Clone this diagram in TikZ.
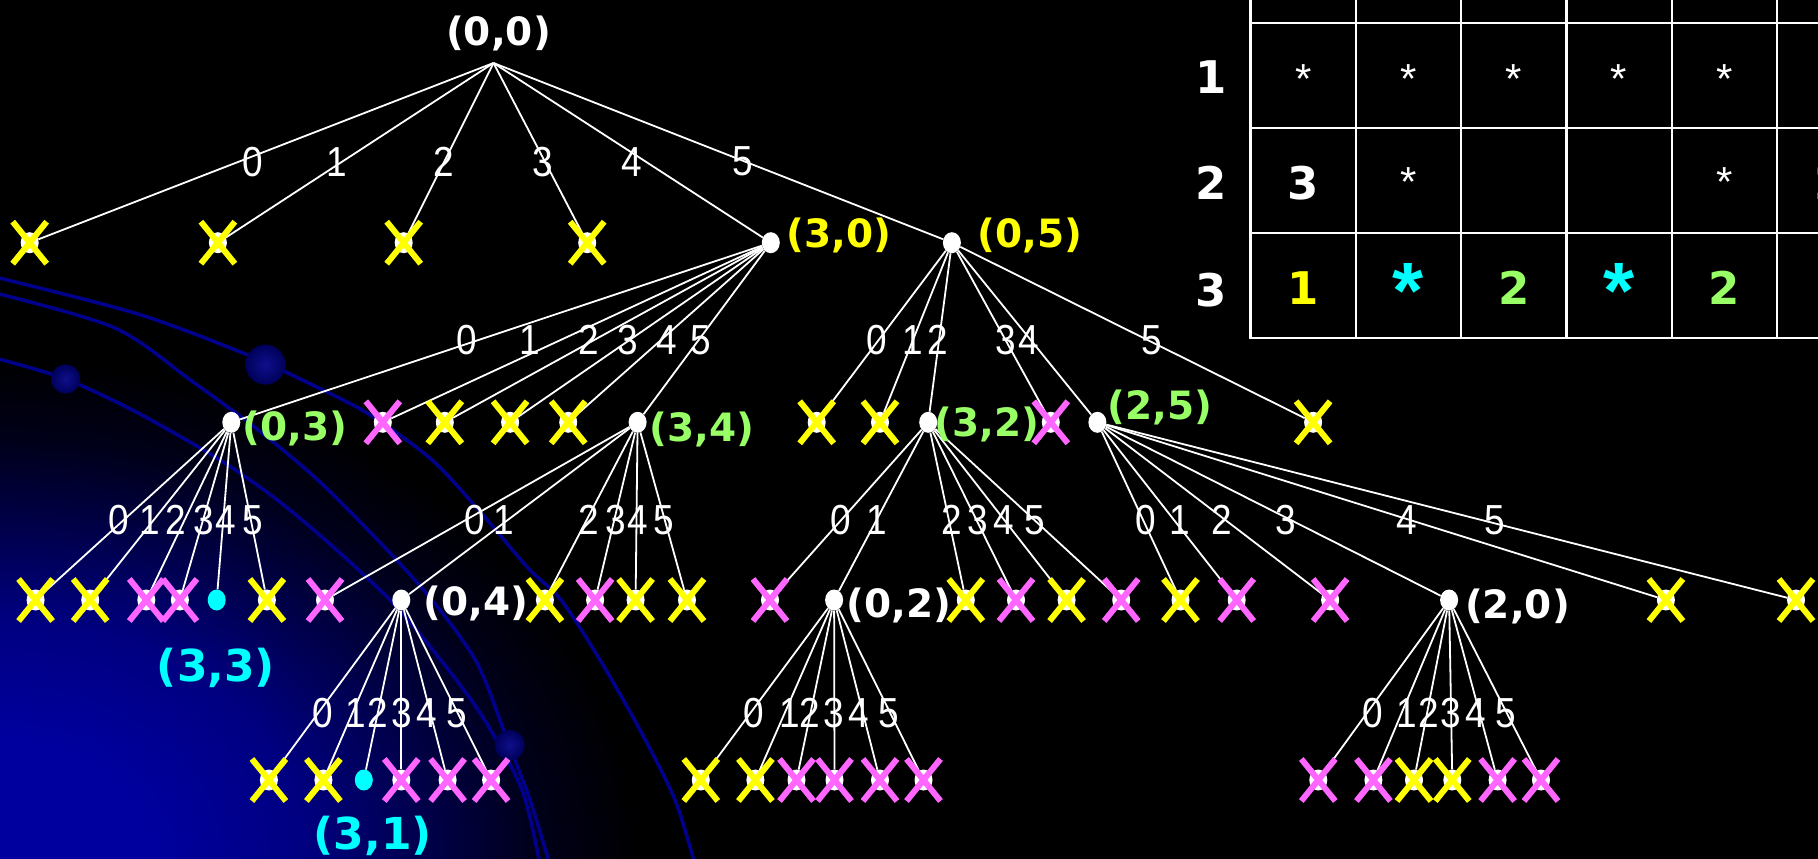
\documentclass[tikz,border=0pt]{standalone}
\usepackage{fontspec}
\setmainfont{Liberation Sans}
\newfontfamily\djv{DejaVu Sans}
\newfontfamily\edgefam[FakeStretch=0.88]{Liberation Sans}
\usetikzlibrary{shapes.geometric}
\definecolor{yel}{RGB}{255,255,0}
\definecolor{pnk}{RGB}{255,102,255}
\definecolor{grn}{RGB}{153,255,102}
\definecolor{cyn}{RGB}{0,255,255}
\definecolor{glowA}{RGB}{0,0,158}
\definecolor{glowB}{RGB}{0,0,128}
\definecolor{glowC}{RGB}{0,0,70}
\definecolor{glowD}{RGB}{0,0,25}
\definecolor{curveblue}{RGB}{0,0,140}
\definecolor{blobin}{RGB}{15,15,140}
\definecolor{blobout}{RGB}{0,0,90}
\pgfdeclareradialshading{cornerglow}{\pgfpointorigin}{color(0bp)=(glowA); color(6bp)=(glowA); color(12bp)=(glowB); color(17bp)=(glowC); color(21bp)=(glowD); color(25bp)=(black); color(50bp)=(black)}
\begin{document}
\begin{tikzpicture}[x=1pt,y=-1pt,
  edge/.style={draw=white,line width=1.8pt},
  dot/.style={ellipse,fill=white,minimum width=18pt,minimum height=21pt,inner sep=0pt},
  cdot/.style={dot,fill=cyn},
  xline/.style={line width=6pt},
  nlab/.style={font=\djv\bfseries\fontsize{39}{43}\selectfont,inner sep=0pt},
  clab/.style={font=\djv\bfseries\fontsize{44}{48}\selectfont,inner sep=0pt,text=cyn},
  elab/.style={font=\edgefam\fontsize{42}{46}\selectfont,text=white,inner sep=0pt},
  tbold/.style={font=\djv\bfseries\fontsize{45}{50}\selectfont,inner sep=0pt},
  tstar/.style={font=\fontsize{42}{46}\selectfont,text=white,inner sep=0pt,anchor=base},
  cstar/.style={font=\bfseries\fontsize{80}{84}\selectfont,text=cyn,inner sep=0pt,anchor=base},
  grid/.style={draw=white,line width=2.2pt},
  deco/.style={draw=curveblue,line width=3.5pt},
  blob/.style={inner color=blobin,outer color=blobout}
]
\useasboundingbox (0,0) rectangle (1818,859);
\fill[black] (0,0) rectangle (1818,859);
\begin{scope}
\clip (0,0) rectangle (1818,859);
\shade[shading=cornerglow] (0,859) ellipse [x radius=640pt, y radius=500pt];
\draw[deco] plot[smooth] coordinates {(-5,277) (138,314) (248,355) (298,378) (367,413) (432,460) (482,514) (528,568) (561,600) (600,660) (640,730) (675,800) (695,865)};
\draw[deco] plot[smooth] coordinates {(-5,293) (115,328) (193,382) (257,429) (321,483) (390,553) (436,605) (478,665) (509,745) (530,800) (550,865)};
\draw[deco] plot[smooth] coordinates {(-5,358) (65.6,379) (138,413) (220,460) (276,499) (331,545) (390,600) (436,654) (482,716) (522,790) (540,865)};
\shade[blob] (265.4,364.6) circle [radius=20pt];
\shade[blob] (65.6,379) circle [radius=14.5pt];
\shade[blob] (509.6,745) circle [radius=15pt];

% ---------- table ----------
\foreach \k in {0,...,5} \draw[grid] (1250.5+105.3*\k,0) -- (1250.5+105.3*\k,337.7);
\foreach \yy in {22.7,127.7,232.7,337.7} \draw[grid] (1249.4,\yy) -- (1818,\yy);
\node[tbold,text=white] (row1) at (1211.3,77) {1};
\node[tbold,text=white] (row2) at (1211.3,183) {2};
\node[tbold,text=white] (row3) at (1211.3,290) {3};
\foreach \xx [count=\i] in {1303.2,1408.5,1513.8,1619.1,1724.4}
  \node[tstar] (s1-\i) at (\xx,93) {*};
\node[tbold,text=white] (t21) at (1303.2,183) {3};
\node[tstar] (s22) at (1408.5,196.5) {*};
\node[tstar] (s25) at (1724.4,196.5) {*};
\node[tbold,text=grn] (t26) at (1829.7,183) {2};
\node[tbold,text=yel] (t31) at (1303.2,288) {1};
\node[cstar] (s32) at (1408.5,318) {*};
\node[tbold,text=grn] (t33) at (1513.8,288) {2};
\node[cstar] (s34) at (1619.1,318) {*};
\node[tbold,text=grn] (t35) at (1724.4,288) {2};

% ---------- tree nodes ----------
\coordinate (r) at (493.5,63);
\foreach \n/\x in {a0/29.7,a1/217.9,a2/403.7,a3/587.2,n30/770.8,n05/951.9}
  \node[dot] (\n) at (\x,242.7) {};
\foreach \n/\x in {n03/231.3,b1/382.8,b2/444.8,b3/510.1,b4/568.2,n34/637.6,c0/816.7,c1/880.0,n32/928.2,c3/1050.8,n25/1097.4,c5/1313.1}
  \node[dot] (\n) at (\x,422.3) {};
\foreach \n/\x in {d0/35.6,d1/90.2,d2/146.3,d3/179.9,d5/266.9,e0/325,n04/401.3,e2/544.9,e3/595.1,e4/635.6,e5/687,f0/770,n02/834.1,f2/965.8,f3/1016,f4/1066.6,f5/1121.2,g0/1180.5,g1/1236.7,g2/1330.1,n20/1449.1,g4/1665.9,g5/1796}
  \node[dot] (\n) at (\x,600) {};
\node[cdot] (n33) at (216.7,600) {};
\foreach \n/\x in {h0/268.9,h1/323.4,h3/401.3,h4/447.6,h5/491.1,i0/700.8,i1/755.4,i2/796.5,i3/834.5,i4/880,i5/923.5,j0/1318.3,j1/1373.4,j2/1414,j3/1452.3,j4/1497.6,j5/1541}
  \node[dot] (\n) at (\x,780) {};
\node[cdot] (n31) at (363.8,780) {};

% ---------- edges ----------
\foreach \c in {a0,a1,a2,a3,n30,n05} \draw[edge] (r) -- (\c);
\foreach \c in {n03,b1,b2,b3,b4,n34} \draw[edge] (n30) -- (\c);
\foreach \c in {c0,c1,n32,c3,n25,c5} \draw[edge] (n05) -- (\c);
\foreach \c in {d0,d1,d2,d3,n33,d5} \draw[edge] (n03) -- (\c);
\foreach \c in {e0,n04,e2,e3,e4,e5} \draw[edge] (n34) -- (\c);
\foreach \c in {f0,n02,f2,f3,f4,f5} \draw[edge] (n32) -- (\c);
\foreach \c in {g0,g1,g2,n20,g4,g5} \draw[edge] (n25) -- (\c);
\foreach \c in {h0,h1,n31,h3,h4,h5} \draw[edge] (n04) -- (\c);
\foreach \c in {i0,i1,i2,i3,i4,i5} \draw[edge] (n02) -- (\c);
\foreach \c in {j0,j1,j2,j3,j4,j5} \draw[edge] (n20) -- (\c);

% ---------- cross marks ----------
\foreach \n in {a0,a1,a2,a3,b2,b3,b4,c0,c1,c5,d0,d1,d5,e2,e4,e5,f2,f4,g0,g4,g5,h0,h1,i0,i1,j2,j3}
  \draw[xline,yel] (\n.center) +(-17,-21) -- +(17,21) +(-17,21) -- +(17,-21);
\foreach \n in {b1,c3,d2,d3,e0,e3,f0,f3,f5,g1,g2,h3,h4,h5,i2,i3,i4,i5,j0,j1,j4,j5}
  \draw[xline,pnk] (\n.center) +(-17,-21) -- +(17,21) +(-17,21) -- +(17,-21);

% ---------- edge labels ----------
\foreach \x/\t [count=\i] in {253.1/0,336.9/1,443.6/2,542.9/3,631.6/4,742.3/5}
  \node[elab] (la\i) at (\x,161.7) {\t};
\foreach \x/\t [count=\i] in {466.6/0,529.9/1,589.2/2,627.7/3,667.2/4,700.8/5,876.8/0,912.4/1,938.1/2,1005.3/3,1029/4,1151.6/5}
  \node[elab] (lb\i) at (\x,340) {\t};
\foreach \x/\t [count=\i] in {118.6/0,149.5/1,176/2,203.6/3,225.4/4,252.3/5,474.5/0,504.2/1,589.2/2,615.8/3,637.6/4,663.3/5,841.2/0,876.8/1,951.9/2,977.6/3,1003.3/4,1035/5,1145.7/0,1179.3/1,1221.7/2,1285.9/3,1406.9/4,1494.8/5}
  \node[elab] (lc\i) at (\x,520) {\t};
\foreach \x/\t [count=\i] in {322.3/0,355.9/1,377.6/2,401.3/3,427/4,456.7/5,754.2/0,789.8/1,809.6/2,833.3/3,859/4,888.7/5,1372.3/0,1406.9/1,1428.6/2,1450.3/3,1475.9/4,1505.5/5}
  \node[elab] (ld\i) at (\x,713) {\t};

% ---------- node labels ----------
\node[nlab,text=white] (l00) at (498.5,33) {(0,0)};
\node[nlab,text=yel] (l30) at (838.9,235.5) {(3,0)};
\node[nlab,text=yel] (l05) at (1029.8,235.5) {(0,5)};
\node[nlab,text=grn] (l03) at (294.7,428) {(0,3)};
\node[nlab,text=grn] (l34) at (701.6,429) {(3,4)};
\node[nlab,text=grn] (l32) at (987,424) {(3,2)};
\node[nlab,text=grn] (l25) at (1159.6,407) {(2,5)};
\node[nlab,text=white] (l04) at (475.6,603) {(0,4)};
\node[nlab,text=white] (l02) at (898.6,605) {(0,2)};
\node[nlab,text=white] (l20) at (1517.5,606) {(2,0)};
\node[clab] (l33) at (216,668) {(3,3)};
\node[clab] (l31) at (372.7,836) {(3,1)};
\end{scope}
\end{tikzpicture}
\end{document}
